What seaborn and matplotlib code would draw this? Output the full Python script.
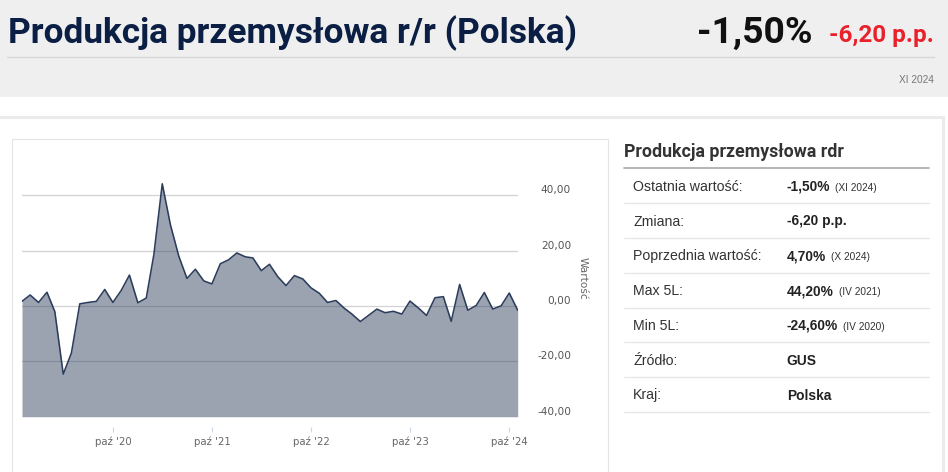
import matplotlib
matplotlib.use("Agg")
import matplotlib.pyplot as plt
import matplotlib.transforms as mtrans
from matplotlib.patches import Rectangle
from matplotlib.lines import Line2D
import numpy as np
import pandas as pd
import seaborn as sns

# ---------------- data ----------------
START_MONTH = "2019-11-01"
values = [
    1.7, 4.0,
    1.3, 5.0, -2.0, -24.6, -17.0, 0.8, 1.3, 1.7, 6.0, 1.3, 5.7, 11.2,
    1.2, 2.9, 18.6, 44.2, 29.4, 18.0, 10.0, 13.3, 9.1, 8.0, 15.3, 16.7,
    19.2, 17.8, 17.4, 12.8, 15.1, 10.6, 7.4, 11.0, 9.8, 6.6, 4.6, 1.3,
    2.0, -0.8, -2.9, -5.6, -3.4, -1.1, -2.4, -1.9, -2.9, 1.8, -0.7, -3.4,
    3.0, 3.4, -5.5, 7.8, -1.5, 0.2, 4.9, -1.1, 0.1, 4.7, -1.5,
]
xtick_dates = ["2020-10-01", "2021-10-01", "2022-10-01", "2023-10-01", "2024-10-01"]
xtick_labels = ["paź '20", "paź '21", "paź '22", "paź '23", "paź '24"]
ytick_values = [-40, -20, 0, 20, 40]
ytick_labels = ["-40,00", "-20,00", "0,00", "20,00", "40,00"]
y_axis_title = "Wartość"

header_title = "Produkcja przemysłowa r/r (Polska)"
last_value_txt = "-1,50%"
change_txt = "-6,20 p.p."
period_txt = "XI 2024"

table_title = "Produkcja przemysłowa rdr"
row_labels = ["Ostatnia wartość:", "Zmiana:", "Poprzednia wartość:", "Max 5L:",
              "Min 5L:", "Źródło:", "Kraj:"]
row_values = ["-1,50%", "-6,20 p.p.", "4,70%", "44,20%", "-24,60%", "GUS", "Polska"]
row_notes = ["(XI 2024)", "", "(X 2024)", "(IV 2021)", "(IV 2020)", "", ""]

# ---------------- figure ----------------
W, H = 948, 472
sns.set_style("white")
plt.rcParams["font.family"] = ["DejaVu Sans"]
fig = plt.figure(figsize=(W / 100, H / 100), dpi=100)
fig.patch.set_facecolor("white")


def fx(x):
    return x / W


def fy(y):
    return 1 - y / H


renderer = fig.canvas.get_renderer()


def fit(t, target):
    w = t.get_window_extent(renderer).width
    t.set_fontsize(t.get_fontsize() * target / w)
    return t


def width(t):
    return t.get_window_extent(renderer).width


# header band
fig.add_artist(Rectangle((0, fy(96.7)), 1, 96.7 / H, transform=fig.transFigure,
                         facecolor="#efefef", edgecolor="none", zorder=0))
fig.add_artist(Line2D([fx(7), fx(934)], [fy(57.3)] * 2, transform=fig.transFigure,
                      color="#d6d6d6", lw=1.0))
# outer content box
fig.add_artist(Line2D([0, fx(943)], [fy(116.7)] * 2, transform=fig.transFigure,
                      color="#ebebeb", lw=2.2))
fig.add_artist(Line2D([fx(942.5)] * 2, [fy(116.7), 0], transform=fig.transFigure,
                      color="#ebebeb", lw=2.2))
# chart panel
for xs, ys in [([12, 608], [139, 139]), ([12, 12], [139, 480]), ([608, 608], [139, 480])]:
    fig.add_artist(Line2D([fx(v) for v in xs], [fy(v) for v in ys],
                          transform=fig.transFigure, color="#e4e4e4", lw=0.8))

t = fig.text(fx(8.3), fy(42.7), header_title, family=["Roboto", "DejaVu Sans"],
             weight="semibold", color="#0b1f45", fontsize=26, ha="left", va="baseline")
fit(t, 570)
t = fig.text(fx(697.3), fy(43.3), last_value_txt, family=["Roboto", "DejaVu Sans"],
             weight="bold", color="#111111", fontsize=26, ha="left", va="baseline")
fit(t, 115.4)
t = fig.text(fx(829.3), fy(41.7), change_txt, family=["Roboto", "DejaVu Sans"],
             weight="bold", color="#e8212b", fontsize=16, ha="left", va="baseline")
fit(t, 104.7)
t = fig.text(fx(934), fy(80), period_txt, family=["Liberation Sans"],
             color="#777777", fontsize=7, ha="right", va="center")
fit(t, 35)

# ---------------- table ----------------
t = fig.text(fx(624), fy(156.7), table_title, family=["Roboto", "DejaVu Sans"],
             weight="semibold", color="#333333", fontsize=12, ha="left", va="baseline")
fit(t, 217.7)
fig.add_artist(Line2D([fx(624), fx(929.3)], [fy(168.3)] * 2, transform=fig.transFigure,
                      color="#a8a8a8", lw=1.2))
probe = fig.text(0, 0, row_labels[2], family=["Liberation Sans"], fontsize=10.5)
fit(probe, 129.4)
lab_size = probe.get_fontsize()
probe.remove()
probe = fig.text(0, 0, row_values[0], family=["Liberation Sans"], weight="bold", fontsize=10.5)
fit(probe, 44)
val_size = probe.get_fontsize()
probe.remove()
probe = fig.text(0, 0, row_notes[0], family=["Liberation Sans"], fontsize=7.5)
fit(probe, 41.7)
note_size = probe.get_fontsize()
probe.remove()

row_step = 34.8
for i, (lab, val, note) in enumerate(zip(row_labels, row_values, row_notes)):
    mid = 168.3 + row_step * (i + 0.5)
    base = mid + 5
    fig.text(fx(633.3), fy(base), lab, family=["Liberation Sans"], fontsize=lab_size,
             color="#333333", ha="left", va="baseline")
    tv = fig.text(fx(786.7), fy(base), val, family=["Liberation Sans"], weight="bold",
                  fontsize=val_size, color="#222222", ha="left", va="baseline")
    if note:
        fig.text(fx(786.7 + width(tv) + 5), fy(base), note, family=["Liberation Sans"],
                 fontsize=note_size, color="#333333", ha="left", va="baseline")
    sep = 168.3 + row_step * (i + 1)
    fig.add_artist(Line2D([fx(624), fx(929.3)], [fy(sep)] * 2, transform=fig.transFigure,
                          color="#e6e6e6", lw=0.9))

# ---------------- chart ----------------
LINE = "#2b3d5b"
ax = fig.add_axes([fx(22), fy(416.7), (517.7 - 22) / W, (416.7 - 140.1) / H])
ax.set_facecolor("none")
df = pd.DataFrame({"date": pd.date_range(START_MONTH, periods=len(values), freq="MS"),
                   "value": values})
ax.fill_between(df["date"], df["value"], -40, color=LINE, alpha=0.47, linewidth=0, zorder=2)
sns.lineplot(data=df, x="date", y="value", ax=ax, color=LINE, linewidth=1.15, zorder=3)
ax.set_xlim(df["date"].iloc[0], df["date"].iloc[-1])
ax.set_ylim(-40, 60)
ax.set_xlabel("")
for s in ax.spines.values():
    s.set_visible(False)
ax.spines["bottom"].set_position(("outward", 7.2))

ax.set_yticks(ytick_values)
ax.set_yticklabels(ytick_labels)
ax.yaxis.tick_right()
ax.grid(axis="y", color="#d2d2d2", lw=0.9)
ax.grid(axis="x", visible=False)
ax.set_axisbelow(True)

ax.set_xticks(pd.to_datetime(xtick_dates))
ax.set_xticklabels(xtick_labels)
ax.tick_params(axis="x", bottom=True, length=3.6, width=0.8, color="#ccd6eb", pad=3.3,
               labelsize=7.3, labelcolor="#666666")
ax.tick_params(axis="y", left=False, right=False, length=0, pad=38.4, labelsize=7.6,
               labelcolor="#555555")
offset = mtrans.ScaledTranslation(0, 6 / 100, fig.dpi_scale_trans)
for lab in ax.get_yticklabels():
    lab.set_horizontalalignment("right")
    lab.set_transform(lab.get_transform() + offset)

ax.set_ylabel(y_axis_title, rotation=270, color="#666666", fontsize=7.6)
ax.yaxis.set_label_position("right")
ax.yaxis.set_label_coords((582.5 - 22) / (517.7 - 22), 0.5)
ax.yaxis.label.set_verticalalignment("center")
ax.yaxis.label.set_horizontalalignment("center")

fig.savefig("out.png", dpi=100)
